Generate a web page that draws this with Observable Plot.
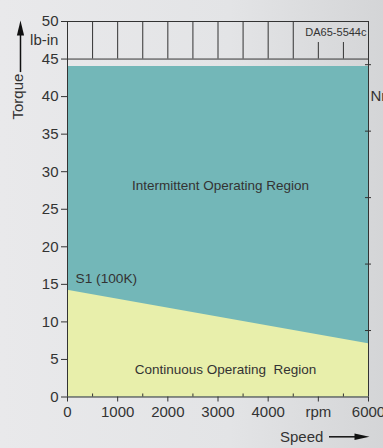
<!DOCTYPE html>
<html><head><meta charset="utf-8">
<script src="https://cdn.jsdelivr.net/npm/d3@7"></script>
<script src="https://cdn.jsdelivr.net/npm/@observablehq/plot@0.6"></script>
<style>body{margin:0;background:#e2e3e5;} #chart svg{display:block;}</style>
</head><body><div id="chart"></div>
<script>
// ---- data ----
const speed = [0, 6000];
const intermittentTorque = [44, 44];
const continuousTorque = [14.2, 7.1];
const yTicks = [0, 5, 10, 15, 20, 25, 30, 35, 40, 45, 50];
const xTicks = [0, 1000, 2000, 3000, 4000, 5000, 6000];
const xTickLabels = ["0", "1000", "2000", "3000", "4000", "rpm", "6000"];
const minorXTicks = [500, 1500, 2500, 3500, 4500, 5500];
const gridSpeeds = [500, 1000, 1500, 2000, 2500, 3000, 3500, 4000, 4500, 5000, 5500];
const gridTop =    [50, 50, 50, 50, 50, 50, 50, 50, 50, 47.2, 47.2];
const nmTicks = [1, 2, 3, 4, 5];
const lbInPerNm = 8.85;

// annotations
const labels = [
  {text: "Intermittent Operating Region", x: 3050, y: 28.2, size: 13.5, anchor: "middle"},
  {text: "Continuous Operating  Region", x: 3150, y: 3.66, size: 13.5, anchor: "middle"},
  {text: "S1 (100K)", x: 160, y: 15.8, size: 13.7, anchor: "start"},
  {text: "DA65-5544c", x: 5960, y: 48.5, size: 11, anchor: "end"},
  {text: "lb-in", x: -180, y: 47.5, size: 15, anchor: "end"},
  {text: "Nm", x: 6040, y: 40.1, size: 15, anchor: "start"},
  {text: "Speed", x: 5100, y: -5.3, size: 15, anchor: "end"}
];
const torqueArrow = {x: -937, y1: 43.2, y2: 49.2, head: 49.13};
const torqueTitle = {text: "Torque", x: -975, y: 40.0};
const speedArrow = {y: -5.3, x1: 5222, x2: 5840, head: 5870};

const rows = speed.map((s, i) => ({speed: s, intermittent: intermittentTorque[i], continuous: continuousTorque[i]}));
const gridRows = gridSpeeds.map((s, i) => ({speed: s, top: gridTop[i]}));

const upHead = {draw(ctx) { ctx.moveTo(0, -7.5); ctx.lineTo(3.6, 7.5); ctx.lineTo(-3.6, 7.5); ctx.closePath(); }};
const rightHead = {draw(ctx) { ctx.moveTo(7.5, 0); ctx.lineTo(-7.5, 3.3); ctx.lineTo(-7.5, -3.3); ctx.closePath(); }};

const ink = "#333333";
const textMarks = ["start", "middle", "end"].map(a =>
  Plot.text(labels.filter(d => d.anchor === a), {x: "x", y: "y", text: "text", fontSize: "size", textAnchor: a, fill: ink})
);
const chart = Plot.plot({
  width: 383, height: 448,
  marginLeft: 67, marginRight: 15, marginTop: 21, marginBottom: 51.5,
  x: {domain: [0, 6000]},
  y: {domain: [0, 50]},
  style: {
    background: "linear-gradient(90deg, #e9e9eb 0%, #e3e4e6 60%, #d4d5d7 100%)",
    fontFamily: "'Liberation Sans', Arial, sans-serif",
    color: ink,
    overflow: "visible"
  },
  marks: [
    Plot.areaY(rows, {x: "speed", y1: 0, y2: "intermittent", fill: "#73b7b8"}),
    Plot.areaY(rows, {x: "speed", y1: 0, y2: "continuous", fill: "#e8efab"}),
    Plot.ruleX(gridRows, {x: "speed", y1: 45, y2: "top", stroke: ink, strokeWidth: 1}),
    Plot.ruleY([45, 50], {x1: 0, x2: 6000, stroke: ink, strokeWidth: 1}),
    Plot.ruleY([0], {x1: 0, x2: 6000, stroke: ink, strokeWidth: 1}),
    Plot.ruleX([0, 6000], {y1: 0, y2: 50, stroke: ink, strokeWidth: 1}),
    Plot.ruleX(minorXTicks, {y1: 0, y2: 0.4, stroke: ink, strokeWidth: 1}),
    Plot.ruleY(nmTicks.map(n => n * lbInPerNm), {x1: 5940, x2: 6060, stroke: ink, strokeWidth: 1}),
    Plot.axisY({ticks: yTicks, tickSize: 6, tickPadding: 3, fontSize: 15, label: null, stroke: ink, fill: ink}),
    Plot.axisX({ticks: xTicks, tickFormat: (d, i) => xTickLabels[i], tickSize: 5, tickPadding: 4, fontSize: 15, label: null, stroke: ink, fill: ink}),
    ...textMarks,
    Plot.ruleX([torqueArrow], {x: "x", y1: "y1", y2: "y2", stroke: "#111", strokeWidth: 1.5}),
    Plot.dot([torqueArrow], {x: "x", y: "head", symbol: upHead, fill: "#111", stroke: null}),
    Plot.text([torqueTitle], {x: "x", y: "y", text: "text", rotate: -90, fontSize: 15, fill: ink}),
    Plot.ruleY([speedArrow], {y: "y", x1: "x1", x2: "x2", stroke: "#111", strokeWidth: 1.5}),
    Plot.dot([speedArrow], {x: "head", y: "y", symbol: rightHead, fill: "#111", stroke: null})
  ]
});
document.getElementById("chart").appendChild(chart);
</script>
</body></html>
